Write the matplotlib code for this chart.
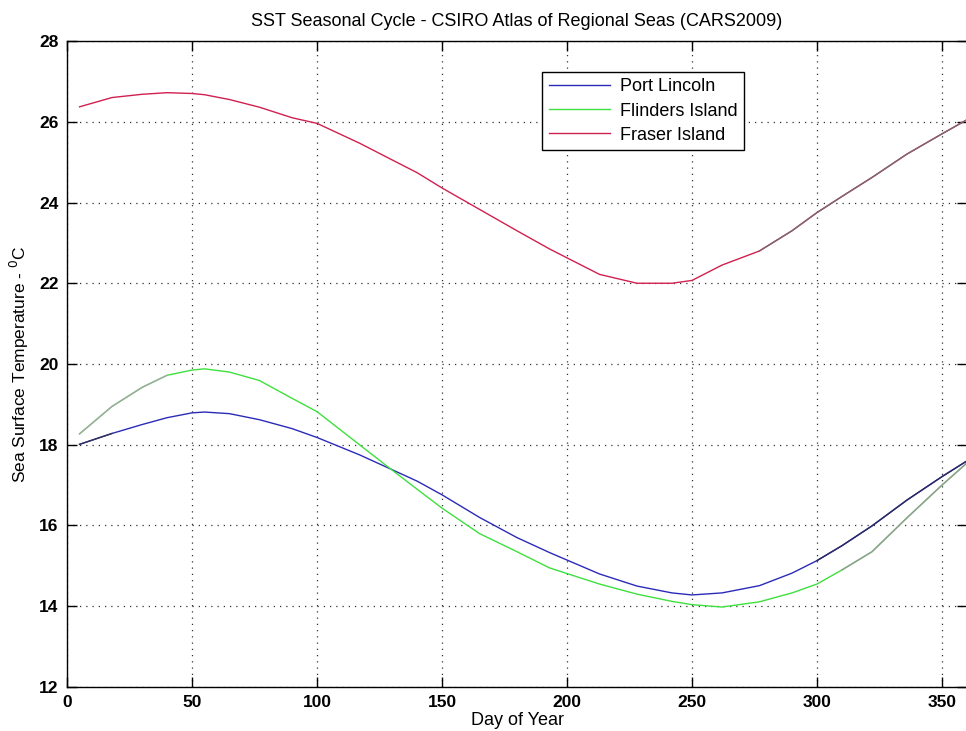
import numpy as np
import matplotlib
matplotlib.use("Agg")
import matplotlib.pyplot as plt

plt.rcParams['font.family'] = ['Liberation Sans', 'DejaVu Sans']

# Jour de l'annee et SST climatologique (CARS2009)
days = [5, 18, 30, 40, 50, 55, 65, 77, 90, 100, 117, 128, 140, 150, 165,
        180, 193, 213, 228, 242, 250, 262, 277, 290, 300, 310, 322, 336, 350, 360]

port_lincoln = [18.01, 18.28, 18.50, 18.67, 18.79, 18.81, 18.77, 18.62, 18.40, 18.18,
                17.75, 17.44, 17.10, 16.76, 16.20, 15.70, 15.33, 14.80, 14.50, 14.33,
                14.28, 14.33, 14.51, 14.82, 15.13, 15.50, 15.99, 16.63, 17.21, 17.60]

flinders_island = [18.27, 18.95, 19.42, 19.72, 19.85, 19.88, 19.80, 19.59, 19.15, 18.82,
                   18.00, 17.47, 16.90, 16.43, 15.80, 15.35, 14.95, 14.55, 14.30, 14.12,
                   14.04, 13.98, 14.11, 14.33, 14.55, 14.90, 15.35, 16.19, 17.00, 17.55]

fraser_island = [26.37, 26.60, 26.68, 26.72, 26.70, 26.67, 26.55, 26.36, 26.10, 25.96,
                 25.47, 25.12, 24.74, 24.36, 23.83, 23.30, 22.85, 22.22, 22.00, 22.00,
                 22.07, 22.45, 22.80, 23.30, 23.75, 24.15, 24.62, 25.20, 25.70, 26.05]

series = [("Port Lincoln", port_lincoln, "#2b2bb8"),
          ("Flinders Island", flinders_island, "#3ee03e"),
          ("Fraser Island", fraser_island, "#d02050")]

# portions du trace qui ressortent grisees
faded = {"Port Lincoln": [(5, 18, "#333355"), (300, 360, "#2a2a60")],
         "Flinders Island": [(5, 40, "#a8a8a8"), (310, 360, "#9a9a9a")],
         "Fraser Island": [(270, 360, "#7a6a70")]}

fig = plt.figure(figsize=(9.66, 7.31), dpi=100)
ax = fig.add_axes([0.0694, 0.0602, 0.9316, 0.8837])

d = np.array(days)
for name, vals, col in series:
    v = np.array(vals)
    ax.plot(d, v, color=col, lw=1.0, label=name)
    for d0, d1, c2 in faded[name]:
        m = (d >= d0) & (d <= d1)
        ax.plot(d[m], v[m], color=c2, lw=1.0)

ax.set_xlim(0, 360)
ax.set_ylim(12, 28)
ax.set_xticks(np.arange(0, 351, 50))
ax.set_yticks(np.arange(12, 29, 2))
ax.tick_params(direction='in', length=7, width=1.0, top=True, right=True,
               labelsize=12.5, pad=6)
for lab in ax.get_xticklabels() + ax.get_yticklabels():
    lab.set_fontweight('bold')
ax.grid(True, linestyle=(0, (1, 4)), color='#333333', linewidth=0.9)
for s in ax.spines.values():
    s.set_linewidth(1.0)

ax.set_title("SST Seasonal Cycle - CSIRO Atlas of Regional Seas (CARS2009)",
             fontsize=13, pad=11)
ax.set_xlabel("Day of Year", fontsize=13, labelpad=1)
ax.set_ylabel(r"Sea Surface Temperature - $^0$C", fontsize=12.5, labelpad=6)

leg = ax.legend(loc='upper left', bbox_to_anchor=(0.528, 0.952), fontsize=13,
                handlelength=3.4, handletextpad=0.55, borderpad=0.35,
                borderaxespad=0, labelspacing=0.4, fancybox=False, framealpha=1,
                edgecolor='black')
leg.get_frame().set_linewidth(1.0)

fig.savefig("out.png", dpi=100)
